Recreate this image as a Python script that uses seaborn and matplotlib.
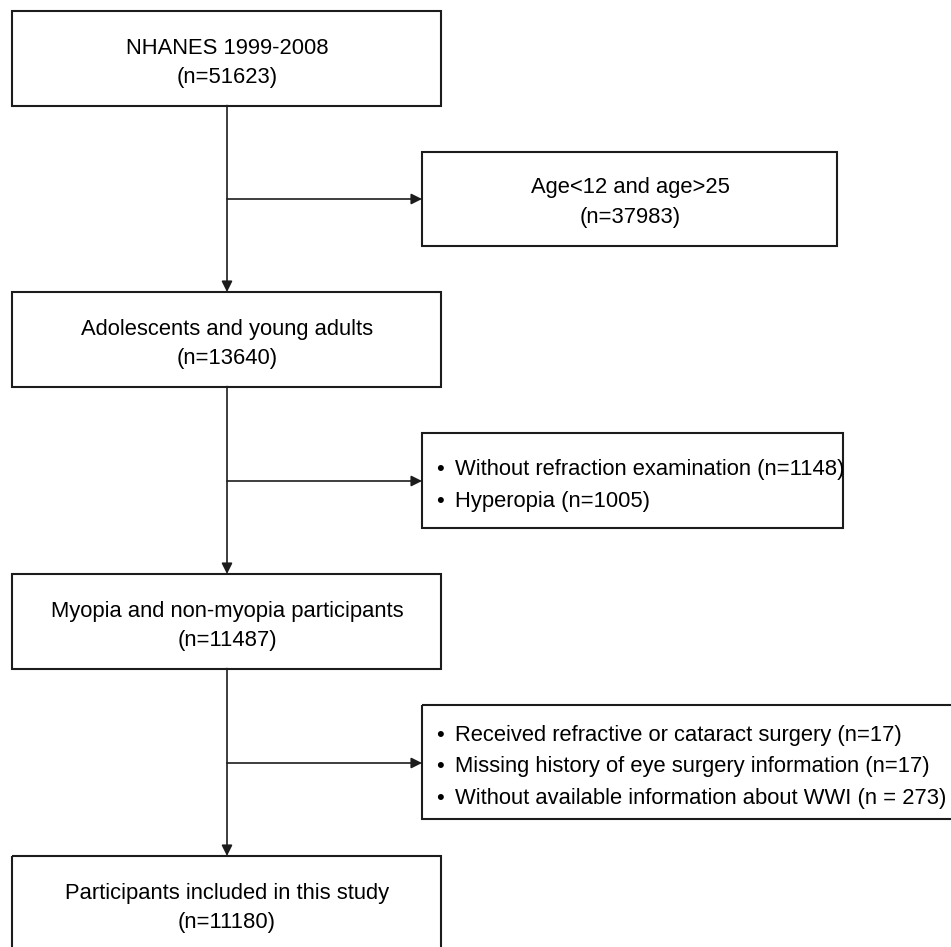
import matplotlib
matplotlib.use("Agg")
import matplotlib.pyplot as plt
from matplotlib.patches import Rectangle
import seaborn as sns

# ---- data ----
main_labels = ["NHANES 1999-2008", "Adolescents and young adults",
               "Myopia and non-myopia participants", "Participants included in this study"]
main_counts = ["(n=51623)", "(n=13640)", "(n=11487)", "(n=11180)"]
excl1_labels = ["Age<12 and age>25", "(n=37983)"]
excl2_items = ["Without refraction examination (n=1148)", "Hyperopia (n=1005)"]
excl3_items = ["Received refractive or cataract surgery (n=17)",
               "Missing history of eye surgery information (n=17)",
               "Without available information about WWI (n = 273)"]

sns.set_style("white")
plt.rcParams['font.family'] = ['Liberation Sans', 'DejaVu Sans']

W, H = 951, 947
fig = plt.figure(figsize=(W / 100, H / 100), dpi=100)
ax = fig.add_axes([0, 0, 1, 1])
ax.set_xlim(0, W)
ax.set_ylim(H, 0)
ax.axis("off")

FS = 15.8
CAP = 7.9  # half cap height in px
EC = "#1c1c1c"
BLW = 1.5
ALW = 1.2

def box(x0, y0, x1, y1):
    ax.add_patch(Rectangle((x0, y0), x1 - x0, y1 - y0, fill=False,
                           edgecolor=EC, lw=BLW))

def ctext(x, y, s):
    ax.text(x, y + CAP, s, ha="center", va="baseline", fontsize=FS, color="black")

def arrow(x0, y0, x1, y1):
    ax.annotate("", xy=(x1, y1), xytext=(x0, y0),
                arrowprops=dict(arrowstyle="-|>", color=EC, lw=ALW,
                                mutation_scale=16, shrinkA=0, shrinkB=0))

# main column geometry
mx0, mx1 = 12, 441
cx = 227
tops = [11, 292, 574, 856]
bh = 94.5
for i, (lab, cnt) in enumerate(zip(main_labels, main_counts)):
    t = tops[i]
    box(mx0, t, mx1, t + bh)
    ctext(cx, t + 35, lab)
    ctext(cx, t + 64, cnt)

# vertical arrows
for i in range(3):
    arrow(cx, tops[i] + bh, cx, tops[i + 1])

# exclusion boxes
ex0 = 422
# box 2
box(ex0, 152, 837, 246)
ctext(630, 185, excl1_labels[0])
ctext(630, 215, excl1_labels[1])
arrow(cx, 199, ex0, 199)

# box 4
box(ex0, 433, 843, 528)
for j, s in enumerate(excl2_items):
    y = 467 + j * 32.5
    ax.text(436, y + CAP, "\u2022", ha="left", va="baseline", fontsize=FS, color="black")
    ax.text(455, y + CAP, s, ha="left", va="baseline", fontsize=FS, color="black")
arrow(cx, 481, ex0, 481)

# box 6
box(ex0, 705, 980, 819)
for j, s in enumerate(excl3_items):
    y = 733 + j * 31.5
    ax.text(436, y + CAP, "\u2022", ha="left", va="baseline", fontsize=FS, color="black")
    ax.text(455, y + CAP, s, ha="left", va="baseline", fontsize=FS, color="black")
arrow(cx, 763, ex0, 763)

fig.savefig("out.png", dpi=100, facecolor="white")
